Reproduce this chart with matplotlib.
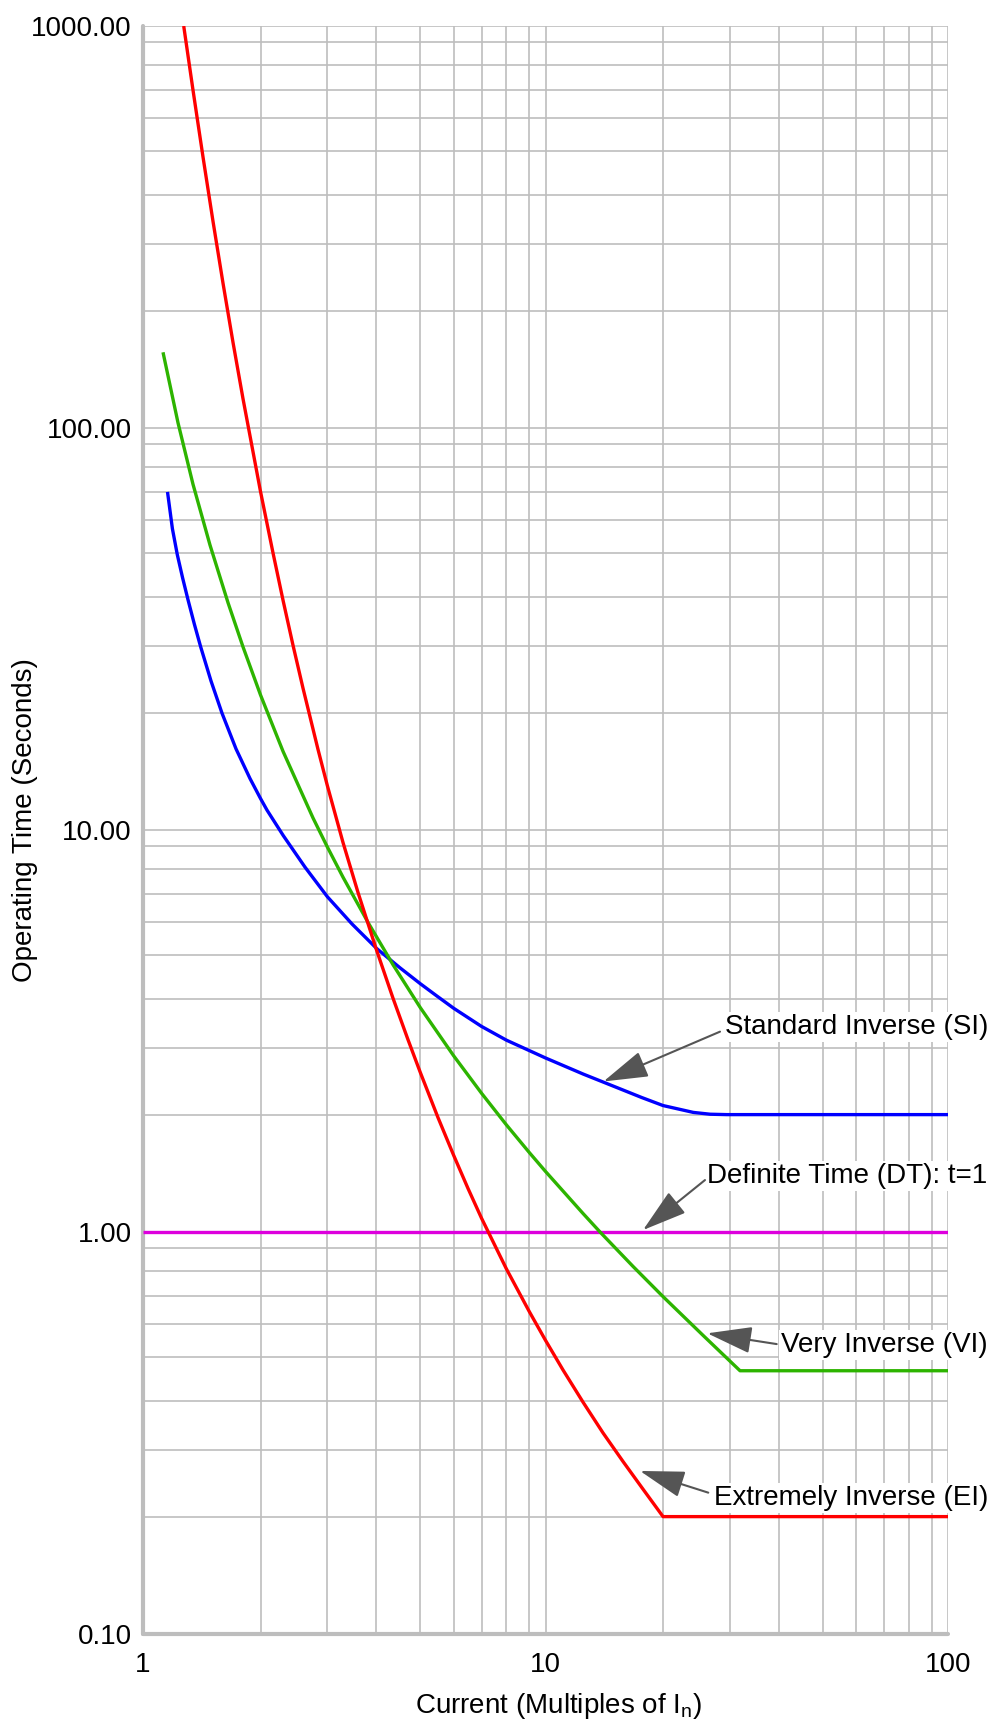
import numpy as np
import matplotlib
matplotlib.use("Agg")
import matplotlib.pyplot as plt

plt.rcParams['font.family'] = ['Liberation Sans', 'DejaVu Sans']
plt.rcParams['mathtext.default'] = 'regular'

# ---------------- data ----------------
ei_x = [1.3464, 1.4255, 1.5106, 1.5957, 1.6809, 1.766, 1.8511, 2.0, 2.1871, 2.3368,
        2.4865, 2.6362, 2.8608, 3.0, 3.3191, 3.624, 4.0, 4.3767, 4.7192, 5.0, 5.53,
        6.0, 6.514, 7.0, 8.0, 9.0, 10.0, 11.489, 13.191, 14.894, 16.596, 18.298,
        20.0, 100.0]
ei_y = [1000, 699, 486.3, 345.8, 240.9, 172.8, 124.8, 70.1, 50.0, 39.3,
        30.1, 23.64, 16.85, 13.78, 9.22, 7.06, 5.156, 4.016, 3.167, 2.631, 1.974,
        1.652, 1.371, 1.118, 0.8087, 0.6428, 0.5501, 0.4705, 0.3974, 0.3346, 0.2826, 0.2411,
        0.2, 0.2]

vi_x = [1.1702, 1.2979, 1.4255, 1.5702, 1.7234, 1.8511, 2.0, 2.3368, 2.7859, 3.0,
        3.3191, 3.8272, 4.3767, 5.0, 6.0, 7.0, 8.0, 9.0, 10.0, 13.191, 14.64,
        17.447, 20.0, 25.99, 32.07, 100.0]
vi_y = [164.5, 104.4, 73.05, 52.37, 38.8, 29.84, 22.64, 16.70, 11.02, 8.96,
        7.67, 5.98, 4.78, 3.82, 2.88, 2.321, 1.912, 1.676, 1.516, 1.158, 1.0,
        0.820, 0.6975, 0.5649, 0.4687, 0.4687]

si_x = [1.2085, 1.2502, 1.2919, 1.337, 1.383, 1.4366, 1.4902, 1.5787, 1.6723, 1.7915,
        1.9106, 2.0, 2.0973, 2.3413, 2.6662, 3.0, 3.502, 4.0, 4.5365, 5.0, 5.5, 6.0,
        7.0, 8.0, 10.0, 13.217, 14.92, 18.19, 20.0, 24.536, 27.036, 29.536, 100.0]
si_y = [70.0, 57.28, 49.61, 44.32, 39.39, 34.46, 29.88, 24.74, 19.95, 16.91,
        14.38, 12.68, 11.69, 9.646, 8.079, 6.899, 5.931, 5.201, 4.708, 4.345, 4.062, 3.807,
        3.438, 3.157, 2.849, 2.607, 2.487, 2.256, 2.136, 2.033, 2.006, 2.0, 2.0]

dt_x = [1.0, 100.0]
dt_y = [1.0, 1.0]

x_major = [1, 10, 100]
x_major_labels = ['1', '10', '100']
y_major = [0.1, 1, 10, 100, 1000]
y_major_labels = ['0.10', '1.00', '10.00', '100.00', '1000.00']
mults = [2, 3, 4, 5, 6, 7, 8, 9]

# ------------- the chart's own (approximate) logarithmic scale -------------
MANT = np.array([1, 2, 3, 4, 5, 6, 7, 8, 9, 10], dtype=float)
FRAC = np.array([0, .292, .458, .580, .689, .772, .841, .903, .960, 1.0])


def _fwd(v):
    v = np.asarray(v, dtype=float)
    v = np.where(v > 0, v, 1e-12)
    e = np.floor(np.log10(v) + 1e-12)
    m = v / 10.0 ** e
    return e + np.interp(m, MANT, FRAC)


def _inv(p):
    p = np.asarray(p, dtype=float)
    e = np.floor(p + 1e-12)
    f = p - e
    return np.interp(f, FRAC, MANT) * 10.0 ** e


fig = plt.figure(figsize=(9.98, 17.26), dpi=100)
ax = fig.add_axes([0.14329, 0.05330, 0.80661, 0.93164])
ax.set_xscale('function', functions=(_fwd, _inv))
ax.set_yscale('function', functions=(_fwd, _inv))

lw = 2.4
kw = dict(lw=lw, zorder=3, solid_joinstyle='round', solid_capstyle='butt')
ax.plot(dt_x, dt_y, color='#dd00dd', **kw)
ax.plot(si_x, si_y, color='#0000ff', **kw)
ax.plot(vi_x, vi_y, color='#2db400', **kw)
ax.plot(ei_x, ei_y, color='#ff0000', **kw)

ax.set_xlim(1, 100)
ax.set_ylim(0.1, 1000)

ax.set_xticks(x_major, labels=x_major_labels)
ax.set_yticks(y_major, labels=y_major_labels)
x_minor = [m * d for d in (1, 10) for m in mults]
y_minor = [m * d for d in (0.1, 1, 10, 100) for m in mults]
ax.set_xticks(x_minor, minor=True)
ax.set_yticks(y_minor, minor=True)

ax.grid(True, which='both', color='#bebebe', linewidth=1.2, zorder=0)
ax.set_axisbelow(True)
ax.tick_params(which='both', length=0, labelsize=20, colors='black')
ax.tick_params(axis='x', pad=13)
ax.tick_params(axis='y', pad=8)

for s in ('top', 'right'):
    ax.spines[s].set_visible(False)
for s in ('left', 'bottom'):
    ax.spines[s].set_linewidth(3.0)
    ax.spines[s].set_color('#bdbdbd')
    ax.spines[s].set_capstyle('round')

ax.set_xlabel('Current (Multiples of I$_{n}$)', fontsize=20)
ax.set_ylabel('Operating Time (Seconds)', fontsize=20)
ax.xaxis.set_label_coords(0.5155, -0.0354)
ax.yaxis.set_label_coords(-0.1304, 0.506)

# ---------------- annotations ----------------
labels = ['Standard Inverse (SI)', 'Definite Time (DT): t=1',
          'Very Inverse (VI)', 'Extremely Inverse (EI)']
text_pos = [(0.723, 0.3731), (0.701, 0.2807), (0.793, 0.1756), (0.709, 0.0802)]
arrow_tail = [(0.7168, 0.3746), (0.6981, 0.2823), (0.7872, 0.1803), (0.7022, 0.0879)]
arrow_tip = [(0.5720, 0.3436), (0.6211, 0.2512), (0.7010, 0.1870), (0.6174, 0.1014)]

for lab, tp in zip(labels, text_pos):
    ax.text(tp[0], tp[1], lab, transform=ax.transAxes, fontsize=20,
            ha='left', va='baseline', color='black', zorder=5, clip_on=False,
            bbox=dict(facecolor='white', edgecolor='none', pad=1.5))

for tail, tip in zip(arrow_tail, arrow_tip):
    ax.annotate('', xy=tip, xytext=tail, xycoords='axes fraction',
                textcoords='axes fraction', zorder=6,
                arrowprops=dict(arrowstyle='-|>,head_length=1.4,head_width=0.42',
                                mutation_scale=20, color='#555555', lw=1.5,
                                shrinkA=0, shrinkB=0))

fig.savefig('out.png', dpi=100)
